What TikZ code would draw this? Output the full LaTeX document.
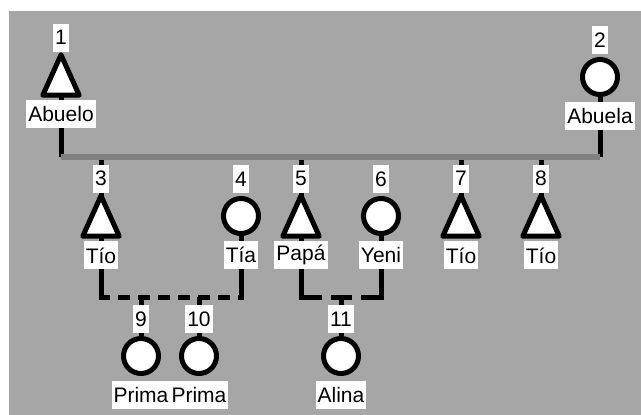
\documentclass[tikz,border=0pt]{standalone}
\usepackage{fontspec}
\setmainfont{Liberation Sans}
\usetikzlibrary{positioning}
\usetikzlibrary{backgrounds}
\tikzstyle{female}=[circle,fill=white,draw=black,line width=5pt,minimum size=35pt,inner sep=0pt]
\tikzstyle{male}=[rectangle,minimum width=36pt,minimum height=40pt,inner sep=0pt]
\tikzstyle{maleshape}=[fill=white,draw=black,line width=5pt,line join=round]
\tikzstyle{tag}=[fill=white,inner xsep=2pt,inner ysep=0pt,minimum height=28pt,font=\fontsize{21}{25}\selectfont]
\tikzstyle{edge}=[draw,line width=5pt]
\tikzstyle{tie}=[draw,line width=5pt,line cap=rect]

\begin{document}
\begin{tikzpicture}[x=1pt,y=-1pt]

  \useasboundingbox (0,0) rectangle (641,415);

  \def\gone{77};
  \def\gtwo{216};
  \def\gthree{356};

  % men
  \foreach \x/\y/\num/\label in {61/75/1/Abuelo, 101/\gtwo/3/Tío, 301/\gtwo/5/Papá, 461/\gtwo/7/Tío, 541/\gtwo/8/Tío}
  {
     \node[male] (p\num) at (\x,\y) {};
     \draw[maleshape] (p\num.north) -- (p\num.south east) -- (p\num.south west) -- cycle;
     \node[tag, above=3pt of p\num] (n\num) {\num};
     \node[tag, below=5pt of p\num] (t\num) {\label};
  }

  % women
  \foreach \x/\y/\num/\label in {600/\gone/2/Abuela, 241/\gtwo/4/Tía, 381/\gtwo/6/Yeni, 141/\gthree/9/Prima, 199/\gthree/10/Prima, 341/\gthree/11/Alina}
  {
     \node[female] (p\num) at (\x,\y) {};
     \node[tag, above=3pt of p\num] (n\num) {\num};
     \node[tag, below=5pt of p\num] (t\num) {\label};
  }

  \begin{scope}[on background layer]
     \fill[gray!70] (9,11) rectangle (641,415);

     \coordinate (top) at (0,157);
     \coordinate (row) at (0,297);

     \draw[edge] (p1.south) -- (p1 |- top);
     \draw[edge] (p2.south) -- (p2 |- top);
     \foreach \num in {3,5,7,8}
        \draw[edge] (p\num |- top) -- (p\num.north);
     \draw[line width=6pt, gray] (p1 |- top) -- (p2 |- top);

     % couples
     \foreach \num in {3,4,5,6}
        \draw[tie] (p\num.south) -- (p\num |- row);
     \draw[edge, dash pattern=on 12pt off 8pt, dash phase=3pt] (p3 |- row) -- (p4 |- row);
     \draw[edge, dash pattern=on 21pt off 9pt] (p5 |- row) -- (p6 |- row);

     % children
     \foreach \num in {9,10,11}
        \draw[edge] (p\num |- row) -- (p\num.north);
  \end{scope}

\end{tikzpicture}
\end{document}
